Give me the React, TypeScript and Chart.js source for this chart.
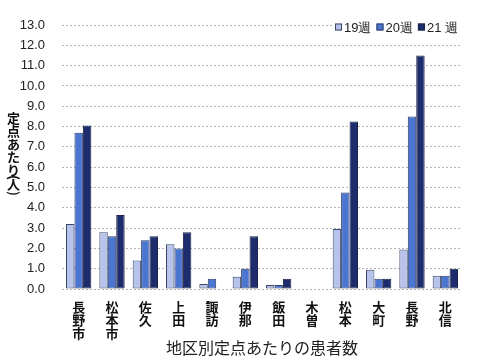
import React, { useEffect, useRef } from 'react';
import { Chart, registerables } from 'chart.js';

Chart.register(...registerables);

const categories = [
  ['長', '野', '市'],
  ['松', '本', '市'],
  ['佐', '久'],
  ['上', '田'],
  ['諏', '訪'],
  ['伊', '那'],
  ['飯', '田'],
  ['木', '曽'],
  ['松', '本'],
  ['大', '町'],
  ['長', '野'],
  ['北', '信'],
];
const seriesLabels = ['19週', '20週', '21 週'];
const week19 = [3.2, 2.8, 1.4, 2.2, 0.25, 0.6, 0.2, 0, 2.95, 0.95, 1.95, 0.65];
const week20 = [7.7, 2.6, 2.4, 2.0, 0.5, 1.0, 0.2, 0, 4.75, 0.5, 8.5, 0.65];
const week21 = [8.05, 3.65, 2.6, 2.8, 0, 2.6, 0.5, 0, 8.25, 0.5, 11.5, 1.0];
const yTitle = '定点あたり(人)';
const xTitle = '地区別定点あたりの患者数';

const fills = ['#b7c3ea', '#4a76d2', '#1d2c6c'];
const borders = ['#3a4766', '#2a3a66', '#1a2448'];

const CJK = '"Noto Sans CJK JP", "Noto Sans", sans-serif';
const LAT = '"Liberation Sans", Arial, sans-serif';

const overlayPlugin = {
  id: 'overlay',
  afterDraw(chart: any) {
    const ctx = chart.ctx as CanvasRenderingContext2D;
    ctx.save();
    // Y axis title, vertical stacked characters
    ctx.fillStyle = '#111';
    ctx.font = `bold 13px ${CJK}`;
    ctx.textAlign = 'center';
    ctx.textBaseline = 'middle';
    let y = 118.5;
    const x = 13.5;
    for (const ch of yTitle) {
      if (ch === '(') {
        ctx.save();
        ctx.translate(x, y - 6);
        ctx.rotate(Math.PI / 2);
        ctx.fillText(ch, 0, 0);
        ctx.restore();
        y += 1;
      } else if (ch === ')') {
        ctx.save();
        ctx.translate(x, y);
        ctx.rotate(Math.PI / 2);
        ctx.fillText(ch, 0, 0);
        ctx.restore();
        y += 8;
      } else {
        ctx.fillText(ch, x, y);
        y += ch === '人' ? 9 : 13;
      }
    }

    // Legend at top right inside chart area
    const area = chart.chartArea;
    ctx.font = `13px ${LAT}`;
    const box = 7;
    const gapBoxText = 2;
    const gapItems = 5;
    const widths = seriesLabels.map((l) => ctx.measureText(l).width);
    let total = 0;
    widths.forEach((w, i) => {
      total += box + gapBoxText + w + (i < widths.length - 1 ? gapItems : 0);
    });
    const right = area.right - 4;
    let lx = right - total;
    const ly = 27;
    ctx.fillStyle = '#ffffff';
    ctx.fillRect(lx - 3, ly - 9, total + 7, 18);
    ctx.textAlign = 'left';
    chart.data.datasets.forEach((ds: any, i: number) => {
      ctx.fillStyle = ds.backgroundColor;
      ctx.fillRect(lx, ly - box / 2, box, box);
      ctx.strokeStyle = ds.borderColor;
      ctx.lineWidth = 1;
      ctx.strokeRect(lx + 0.5, ly - box / 2 + 0.5, box - 1, box - 1);
      ctx.fillStyle = '#222';
      ctx.fillText(seriesLabels[i], lx + box + gapBoxText, ly + 1);
      lx += box + gapBoxText + widths[i] + gapItems;
    });
    ctx.restore();
  },
};

export default function App() {
  const ref = useRef<HTMLCanvasElement | null>(null);
  useEffect(() => {
    if (!ref.current) return;
    const chart = new Chart(ref.current, {
      type: 'bar',
      data: {
        labels: categories,
        datasets: [week19, week20, week21].map((d, i) => ({
          label: seriesLabels[i],
          data: d,
          backgroundColor: fills[i],
          borderColor: borders[i],
          borderWidth: 1,
          borderSkipped: false,
          categoryPercentage: 0.76,
          barPercentage: 1.0,
        })),
      },
      options: {
        responsive: false,
        animation: false,
        devicePixelRatio: 1,
        layout: { padding: { top: 25, right: 21, bottom: 0, left: 0 } },
        plugins: {
          legend: { display: false },
          tooltip: { enabled: false },
        },
        scales: {
          x: {
            grid: { display: false, drawTicks: false },
            border: { display: false },
            ticks: {
              color: '#111',
              font: { family: CJK, size: 13, weight: 'bold', lineHeight: 1.0 },
              padding: 12,
              maxRotation: 0,
              autoSkip: false,
            },
            title: {
              display: true,
              text: xTitle,
              color: '#222',
              font: { family: CJK, size: 16, lineHeight: 1.2 },
              padding: { top: 0, bottom: 3 },
            },
            afterFit: (s: any) => {
              s.height = 72;
            },
          },
          y: {
            min: 0,
            max: 13,
            ticks: {
              stepSize: 1,
              color: '#222',
              font: { family: LAT, size: 13 },
              padding: 17,
              callback: (v: any) => Number(v).toFixed(1),
            },
            grid: {
              color: '#b4b4b4',
              drawTicks: false,
            },
            border: { display: false, dash: [2, 2] },
            afterFit: (s: any) => {
              s.width = 62;
            },
          },
        },
      },
      plugins: [overlayPlugin],
    } as any);
    return () => chart.destroy();
  }, []);
  return (
    <div style={{ position: 'fixed', left: 0, top: 0, width: 483, height: 361, background: '#fff' }}>
      <canvas ref={ref} width={483} height={361} style={{ display: 'block' }} />
    </div>
  );
}
